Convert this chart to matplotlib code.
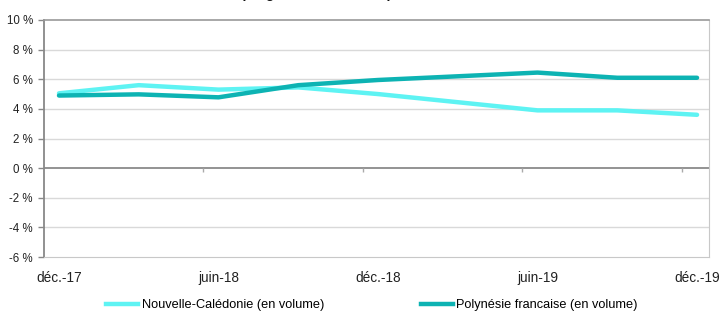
import matplotlib
matplotlib.use("Agg")
import matplotlib.pyplot as plt
from matplotlib.lines import Line2D

periods = ["déc.-17", "mars-18", "juin-18", "sept.-18", "déc.-18", "mars-19", "juin-19", "sept.-19", "déc.-19"]
nouvelle_caledonie = [5.05, 5.6, 5.3, 5.45, 5.0, 4.45, 3.9, 3.9, 3.6]
polynesie = [4.9, 4.98, 4.78, 5.6, 5.95, 6.2, 6.45, 6.1, 6.1]
yticks = [-6, -4, -2, 0, 2, 4, 6, 8, 10]
ytick_labels = ["-6 %", "-4 %", "-2 %", "0 %", "2 %", "4 %", "6 %", "8 %", "10 %"]
xlabel_idx = [0, 2, 4, 6, 8]

FONT = ["Liberation Sans", "DejaVu Sans"]
plt.rcParams["font.family"] = FONT

c_nc = "#5EF3F3"
c_pf = "#0DB3B3"

fig = plt.figure(figsize=(7.21, 3.13), dpi=100)
ax = fig.add_axes([44/721, 1-257/313, (709-44)/721, (257-20)/313])

x = list(range(len(periods)))
ax.plot(x, nouvelle_caledonie, color=c_nc, lw=3.2, solid_capstyle="round", zorder=3)
ax.plot(x, polynesie, color=c_pf, lw=3.2, solid_capstyle="round", zorder=4)

ax.set_xlim(-0.188, 8.15)
ax.set_ylim(-6, 10)
ax.set_yticks(yticks)
ax.set_yticklabels(ytick_labels, fontsize=8.3, color="#222222")
ax.tick_params(axis="y", length=4, width=1, color="#888888", pad=4)
for yv in yticks:
    if yv not in (-6, 0, 10):
        ax.axhline(yv, color="#d9d9d9", lw=1, zorder=1)
ax.axhline(0, color="#8a8a8a", lw=1.3, zorder=2)

ax.set_xticks(xlabel_idx)
ax.set_xticklabels([periods[i] for i in xlabel_idx], fontsize=9.8, color="#222222")
ax.tick_params(axis="x", length=0, pad=10)

# small category tick marks on the zero line
ax.vlines([1.81, 3.81, 5.81, 7.81], -0.28, 0, color="#aaaaaa", lw=1, zorder=2)

ax.spines["left"].set_color("#888888")
ax.spines["left"].set_linewidth(1.3)
ax.spines["top"].set_color("#999999")
ax.spines["top"].set_linewidth(1.2)
ax.spines["right"].set_color("#c8c8c8")
ax.spines["bottom"].set_color("#c8c8c8")

handles = [Line2D([0], [0], color=c_nc, lw=3.2), Line2D([0], [0], color=c_pf, lw=3.2)]
fig.legend(handles, ["Nouvelle-Calédonie (en volume)", "Polynésie francaise (en volume)"],
           loc="center", bbox_to_anchor=(372/721, 1-305/313), ncol=2, frameon=False,
           fontsize=9.2, handlelength=2.5, handletextpad=0.25, columnspacing=7.6,
           borderpad=0, borderaxespad=0)

fig.text(316/721, 1 + 2/313, "(en glissement annuel)", ha="center", va="baseline",
         fontsize=10, fontweight="bold", color="#111111")

fig.savefig("out.png", dpi=100)
